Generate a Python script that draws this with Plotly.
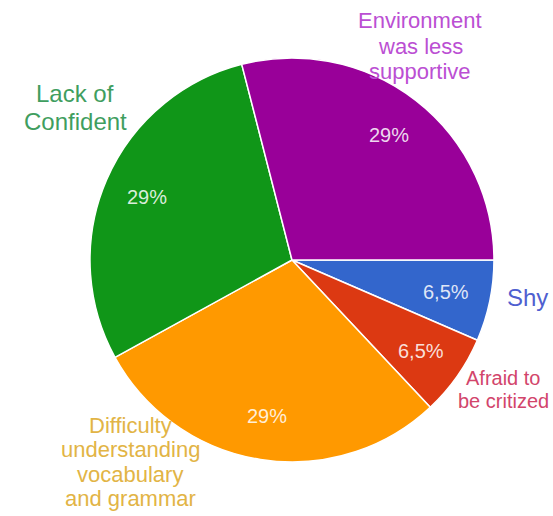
import math
import plotly.graph_objects as go

# Reasons reported for difficulty speaking English
labels = ["Shy", "Afraid to be critized", "Difficulty understanding vocabulary and grammar",
          "Lack of Confident", "Environment was less supportive"]
values = [6.5, 6.5, 29, 29, 29]
slice_colors = ["#3366cc", "#dc3912", "#ff9900", "#109618", "#990099"]

# Outside labels: lines, colour, centre x (px), first-line y (px), line step (px), font size
label_lines = [["Shy"],
               ["Afraid to", "be critized"],
               ["Difficulty", "understanding", "vocabulary", "and grammar"],
               ["Lack of", "Confident"],
               ["Environment", "was less", "supportive"]]
label_colors = ["#4f5fd0", "#d2456b", "#e2b445", "#3f9e5f", "#bb4fd3"]
label_x = [527, 503, 130, 75, 420]
label_y0 = [297, 378, 425, 93, 21]
label_step = [0, 23, 24.5, 29, 25]
label_sizes = [24, 20, 22, 24, 22]

W, H = 553, 516
dom_x = [0.1627, 0.8933]
dom_y = [0.1047, 0.8876]
FONT = "Arial, Liberation Sans, sans-serif"

fig = go.Figure(go.Pie(
    labels=labels,
    values=values,
    textinfo="none",
    sort=False,
    direction="clockwise",
    rotation=90,
    marker=dict(colors=slice_colors, line=dict(color="white", width=1.5)),
    domain=dict(x=dom_x, y=dom_y),
    showlegend=False,
    hoverinfo="label+percent",
))

# Percentage labels placed at each slice's mid-angle, 0.78 of the radius
cx = (dom_x[0] + dom_x[1]) / 2 * W
cy = (1 - (dom_y[0] + dom_y[1]) / 2) * H
radius = min((dom_x[1] - dom_x[0]) * W, (dom_y[1] - dom_y[0]) * H) / 2
total = sum(values)
start = 0.0
for v in values:
    mid = (start + v / 2) / total * 2 * math.pi  # clockwise from 3 o'clock
    start += v
    px = cx + 0.78 * radius * math.cos(mid)
    py = cy + 0.78 * radius * math.sin(mid)
    fig.add_annotation(x=px / W, y=1 - py / H, xref="paper", yref="paper",
                       text=f"{v:g}%".replace(".", ","), showarrow=False,
                       font=dict(color="rgba(255,255,255,0.85)", size=20, family=FONT),
                       xanchor="center", yanchor="middle")

for lines, col, x, y0, step, sz in zip(label_lines, label_colors, label_x,
                                        label_y0, label_step, label_sizes):
    for i, line in enumerate(lines):
        fig.add_annotation(x=x / W, y=1 - (y0 + i * step) / H, xref="paper", yref="paper",
                           text=line, showarrow=False,
                           font=dict(color=col, size=sz, family=FONT),
                           xanchor="center", yanchor="middle")

fig.update_layout(
    width=W, height=H,
    margin=dict(l=0, r=0, t=0, b=0),
    paper_bgcolor="white",
    plot_bgcolor="white",
)

fig.write_html("out.html")
